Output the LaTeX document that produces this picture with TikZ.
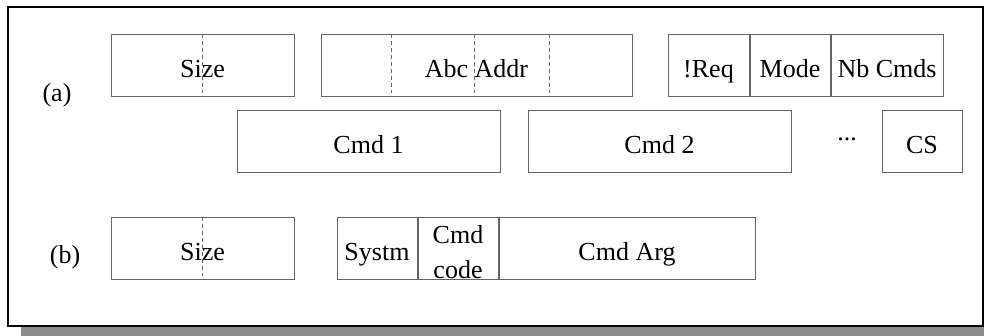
\documentclass[tikz,border=0pt]{standalone}
\usepackage{fontspec}
\setmainfont{Liberation Serif}
\usetikzlibrary{positioning}
\definecolor{colBOX}{RGB}{100,100,100}
\definecolor{colSHADOW}{RGB}{140,140,140}

\begin{document}
\begin{tikzpicture}[x=1pt, y=-1pt,
    every node/.style={font=\fontsize{26}{35}\selectfont, inner sep=0pt},
    field/.style={draw=colBOX, line width=1pt, minimum height=62pt, text height=24pt, text depth=0pt},
    divider/.style={colBOX, line width=0.8pt, dash pattern=on 4pt off 3pt}]
      \useasboundingbox (0,0) rectangle (984,335);
      % Shadow and frame
      \fill[colSHADOW] (21,20) rectangle (996,339);
      \draw[fill=white, line width=2pt] (8,7) rectangle (983,326);
      % Frame (a): header
      \node (tagA) at (57,95) {(a)};
      \node[field, minimum width=183pt] (sizeA) at (202.5,65.5) {Size};
      \node[field, minimum width=311pt] (abc) at (476.5,65.5) {Abc Addr};
      \node[field, minimum width=81pt] (req) at (708.5,65.5) {!Req};
      \node[field, minimum width=80pt, right=0pt of req] (mode) {Mode};
      \node[field, minimum width=112pt, right=0pt of mode] (nb) {Nb Cmds};
      \draw[divider] (sizeA.north) -- ([yshift=4pt]sizeA.south);
      \foreach \dx in {-85.5,-2.5,72.5}
        \draw[divider] ([xshift=\dx pt]abc.north) -- ([xshift=\dx pt, yshift=4pt]abc.south);
      % Frame (a): commands
      \node[field, minimum width=263pt] (cmd1) at (368.5,141) {Cmd 1};
      \node[field, minimum width=263pt] (cmd2) at (659.5,141) {Cmd 2};
      \node (dots) at (847,139) {...};
      \node[field, minimum width=80pt] (cs) at (922,141) {CS};
      % Frame (b)
      \node (tagB) at (65,257) {(b)};
      \node[field, minimum width=183pt] (sizeB) at (202.5,248) {Size};
      \draw[divider] (sizeB.north) -- ([yshift=4pt]sizeB.south);
      \node[field, minimum width=80pt] (systm) at (377,248) {Systm};
      \node[field, minimum width=80pt, right=0pt of systm, align=center,
            text height=60pt, text depth=0pt] (code) {Cmd\\code};
      \node[field, minimum width=256pt, right=0pt of code] (arg) {Cmd Arg};
    \end{tikzpicture}
\end{document}
